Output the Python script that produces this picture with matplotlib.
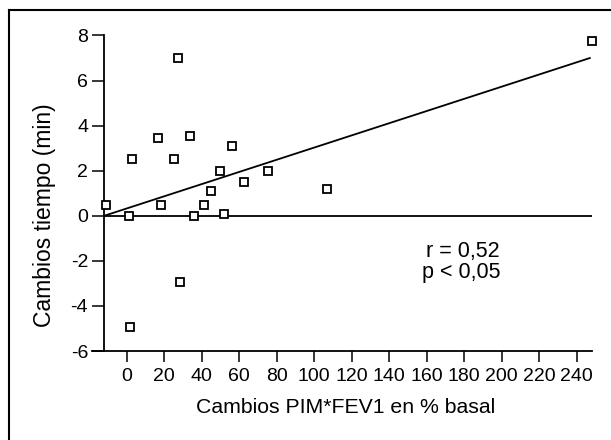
import numpy as np
import matplotlib
matplotlib.use("Agg")
import matplotlib.pyplot as plt
from matplotlib.lines import Line2D

plt.rcParams['font.family'] = ['Liberation Sans', 'DejaVu Sans']
plt.rcParams['axes.unicode_minus'] = False

# changes in PIM*FEV1 (% of baseline) vs change in time (min)
cambio_pim = [-11, 1, 2, 3, 16.5, 18.5, 25, 27.5, 28.5, 33.5,
              36, 41, 45, 49.5, 52, 56, 62.5, 75.5, 107, 248]
cambio_tiempo = [0.5, 0, -4.95, 2.5, 3.45, 0.5, 2.5, 7, -2.95, 3.55,
                 0, 0.5, 1.1, 2.0, 0.07, 3.1, 1.5, 2.0, 1.17, 7.75]

# regression line
recta_x = [-12, 247]
recta_y = [0.0, 7.0]

xticks = list(range(0, 241, 20))
yticks = [-6, -4, -2, 0, 2, 4, 6, 8]

fig = plt.figure(figsize=(6.11, 4.40), dpi=100)
ax = fig.add_axes([92 / 611, 1 - 351 / 440, (591.7 - 92) / 611, (351 - 35.5) / 440])

ax.set_xlim(-18.5, 248)
ax.set_ylim(-6, 8)

ax.spines['top'].set_visible(False)
ax.spines['right'].set_visible(False)
ax.spines['left'].set_position(('data', -12))
ax.spines['left'].set_linewidth(1.3)
ax.spines['bottom'].set_linewidth(1.3)

ax.hlines(0, -12, 248, color='black', lw=1.3)
ax.plot(recta_x, recta_y, color='black', lw=1.3)
ax.plot(cambio_pim, cambio_tiempo, 's', ms=5.5, mfc='white', mec='black',
        mew=1.3, clip_on=False, zorder=5)

ax.set_xticks(xticks)
ax.set_yticks(yticks)
ax.tick_params(axis='x', direction='out', length=8, width=1.1, pad=4, labelsize=14)
ax.tick_params(axis='y', direction='out', length=8.6, width=1.1, pad=3, labelsize=14)

fig.text(346 / 611, 1 - 407 / 440, 'Cambios PIM*FEV1 en % basal',
         ha='center', va='center', fontsize=15.3)
fig.text(45 / 611, 1 - 215 / 440, 'Cambios tiempo (min)', rotation=90,
         ha='center', va='center', fontsize=16.5)
fig.text(500 / 611, 1 - 262 / 440, 'r = 0,52\np < 0,05', ha='right', va='center',
         fontsize=15.5, linespacing=1.0)

# frame around the figure (top and left edges visible)
fig.add_artist(Line2D([9 / 611, 1], [1 - 10 / 440, 1 - 10 / 440],
                      transform=fig.transFigure, color='black', lw=1.5))
fig.add_artist(Line2D([9 / 611, 9 / 611], [0, 1 - 10 / 440],
                      transform=fig.transFigure, color='black', lw=1.5))

fig.savefig('out.png', dpi=100)
